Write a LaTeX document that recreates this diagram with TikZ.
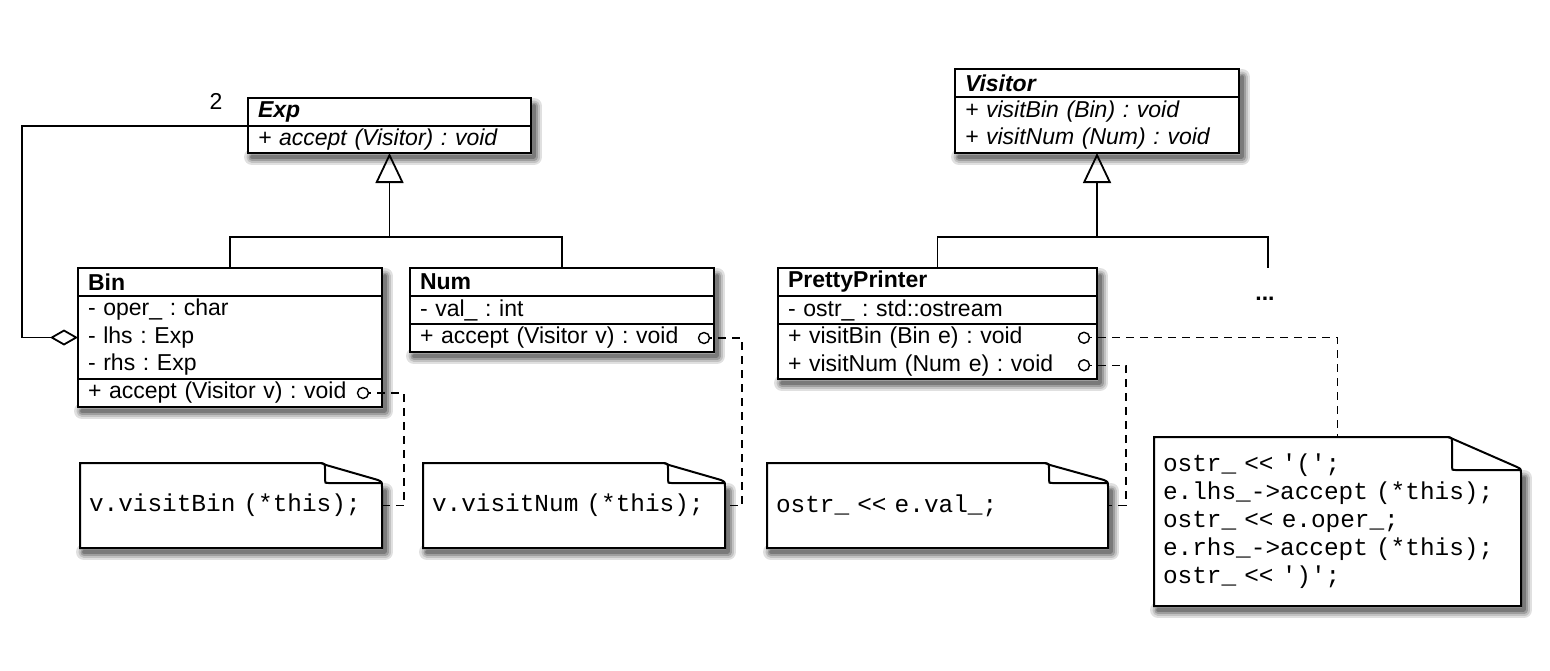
\documentclass[tikz,border=0pt]{standalone}
\usepackage{fontspec}
\setmainfont{Liberation Sans}
\setmonofont{Liberation Mono}
\usetikzlibrary{arrows.meta,positioning}

\definecolor{shadowA}{rgb}{0.88,0.88,0.88}
\definecolor{shadowB}{rgb}{0.76,0.76,0.76}
\definecolor{shadowC}{rgb}{0.62,0.62,0.62}
\definecolor{shadowD}{rgb}{0.48,0.48,0.48}

\tikzset{
  umltitle/.style={draw, line width=1pt, fill=white, outer sep=0pt, inner xsep=5pt, inner ysep=0pt,
    minimum height=14pt, align=left, font=\fontsize{11.5}{13.75}\selectfont\bfseries},
  umlpart/.style={draw, line width=1pt, fill=white, outer sep=0pt, inner xsep=5pt, inner ysep=0pt,
    align=left, font=\fontsize{11.5}{13.75}\selectfont},
  note/.style={inner xsep=4.5pt, inner ysep=0pt, outer sep=0pt, align=left, anchor=north west,
    font=\fontsize{12.2}{14}\selectfont\ttfamily},
  noteline/.style={draw, line width=1pt, fill=white},
  shadowline/.style={line cap=round, line join=round},
  linkdot/.style={circle, draw, line width=0.7pt, fill=white, inner sep=0pt, minimum size=5.5pt},
  notelink/.style={dash pattern=on 4pt off 3pt, line width=0.7pt},
  tree/.style={line width=0.9pt},
  gen/.style={line width=0.9pt, -{Triangle[open, length=15pt, width=14pt]}},
  agg/.style={line width=0.9pt, -{Diamond[open, length=14pt, width=8pt]}},
}

% grey shadow along bottom and right side: left, top, width, height (px)
\newcommand{\castshadow}[4]{%
  \draw[shadowline, shadowA, line width=8pt] ({#1+4},{#2+#4+4}) -- ({#1+#3+3},{#2+#4+4}) -- ({#1+#3+3},{#2+8});
  \draw[shadowline, shadowB, line width=5.5pt] ({#1+4},{#2+#4+4}) -- ({#1+#3+3},{#2+#4+4}) -- ({#1+#3+3},{#2+8});
  \draw[shadowline, shadowC, line width=3.5pt] ({#1+4},{#2+#4+4}) -- ({#1+#3+3},{#2+#4+4}) -- ({#1+#3+3},{#2+8});
  \draw[shadowline, shadowD, line width=1.8pt] ({#1+4},{#2+#4+4}) -- ({#1+#3+3},{#2+#4+4}) -- ({#1+#3+3},{#2+8});
}

% note sheet with folded corner: left, top, width, height, fold width, fold height (px)
\newcommand{\notesheet}[6]{%
  \castshadow{#1}{#2+#6}{#3}{#4-#6}
  \begin{scope}[shift={(#1,#2)}]
    \draw[noteline] (0,#4) -- (0,0) -- ({#3-#5-4},0) .. controls ({#3-#5+2},0) .. ({#3-#5+6},2)
      -- ({#3-4},{#6-3}) .. controls (#3,{#6-1}) .. (#3,{#6+4}) -- (#3,#4) -- cycle;
    \draw[line width=1pt] ({#3-#5+1},0) .. controls ({#3-#5+5},1) .. ({#3-#5+5},6)
      -- ({#3-#5+5},{#6-3}) .. controls ({#3-#5+5},#6) .. ({#3-#5+9},#6) -- (#3,#6);
  \end{scope}
}

\begin{document}
\frenchspacing
\begin{tikzpicture}[x=0.5pt, y=-0.5pt]
    \useasboundingbox (0,0) rectangle (1550,670);

    % Shadows and note sheets
    \castshadow{248}{98}{283}{55}
    \castshadow{78}{268}{304}{139}
    \castshadow{410}{268}{304}{84}
    \castshadow{955}{69}{284}{84}
    \castshadow{778}{268}{319}{111}
    \notesheet{80}{463}{302}{85}{62}{20}
    \notesheet{423}{463}{302}{85}{62}{20}
    \notesheet{767}{463}{341}{85}{64}{20}
    \notesheet{1154}{437}{367}{169}{74}{33}

    % Classes (Exp side)
    \node[umltitle, text width=131.5pt, anchor=north west] (exptitle) at (248,98) {\itshape Exp};
    \node[umlpart, text width=131.5pt, minimum height=13.5pt, below=0pt of exptitle] (expmeth) {\itshape + accept (Visitor) : void};

    \node[umltitle, text width=142pt, anchor=north west] (bintitle) at (78,268) {Bin};
    \node[umlpart, text width=142pt, minimum height=41.5pt, below=0pt of bintitle] (binattr) {- oper\_ : char\\- lhs : Exp\\- rhs : Exp};
    \node[umlpart, text width=142pt, minimum height=14pt, below=0pt of binattr] (binmeth) {+ accept (Visitor v) : void};

    \node[umltitle, text width=142pt, anchor=north west] (numtitle) at (410,268) {Num};
    \node[umlpart, text width=142pt, minimum height=14pt, below=0pt of numtitle] (numattr) {- val\_ : int};
    \node[umlpart, text width=142pt, minimum height=14pt, below=0pt of numattr] (nummeth) {+ accept (Visitor v) : void};

    % Classes (Visitor side)
    \node[umltitle, text width=132pt, anchor=north west] (vistitle) at (955,69) {\itshape Visitor};
    \node[umlpart, text width=132pt, minimum height=28pt, below=0pt of vistitle] (vismeth) {\itshape + visitBin (Bin) : void\\\itshape + visitNum (Num) : void};

    \node[umltitle, text width=149.5pt, anchor=north west] (pptitle) at (778,268) {PrettyPrinter};
    \node[umlpart, text width=149.5pt, minimum height=14pt, below=0pt of pptitle] (ppattr) {- ostr\_ : std::ostream};
    \node[umlpart, text width=149.5pt, minimum height=27.5pt, below=0pt of ppattr] (ppmeth) {+ visitBin (Bin e) : void\\+ visitNum (Num e) : void};

    \node[font=\fontsize{11.5}{13.75}\selectfont\bfseries] (more) at (1265,299) {...};
    \node[font=\fontsize{11.5}{13.75}\selectfont] (mult) at (216,101) {2};

    % Notes
    \node[note, text width=142pt, minimum height=42.5pt] (binnote) at (80,463) {v.visitBin (*this);};
    \node[note, text width=142pt, minimum height=42.5pt] (numnote) at (423,463) {v.visitNum (*this);};
    \node[note, text width=161.5pt, minimum height=42.5pt] (ppnumnote) at (767,463) {ostr\_ << e.val\_;};
    \node[note, text width=174.5pt, minimum height=84.5pt] (ppbinnote) at (1154,437)
        {ostr\_ << '(';\\e.lhs\_->accept (*this);\\ostr\_ << e.oper\_;\\e.rhs\_->accept (*this);\\ostr\_ << ')';};

    % Inheritance
    \coordinate (expfork) at (expmeth.south |- 0,237);
    \draw[tree] (bintitle.north) |- (expfork) -| (numtitle.north);
    \draw[gen] (expfork) -- (expmeth.south);

    \coordinate (visfork) at (vismeth.south |- 0,237);
    \coordinate (moreend) at (1268,268);
    \draw[tree] (pptitle.north) |- (visfork) -| (moreend);
    \draw[gen] (visfork) -- (vismeth.south);

    % Aggregation Bin -> Exp
    \coordinate (aggcorner) at (binattr.west -| 22,0);
    \draw[agg] (exptitle.south west) -| (aggcorner) -- (binattr.west);

    % Links to the notes
    \draw[notelink] ([xshift=-9.5pt]binmeth.east) -| ([xshift=11pt]binnote.east) -- (binnote.east);
    \draw[notelink] ([xshift=-5pt]nummeth.east) -| ([xshift=8.5pt]numnote.east) -- (numnote.east);
    \draw[notelink] ([xshift=-6.5pt,yshift=6.875pt]ppmeth.east) -| (ppbinnote.north);
    \draw[notelink] ([xshift=-6.5pt,yshift=-6.875pt]ppmeth.east) -| ([xshift=9pt]ppnumnote.east) -- (ppnumnote.east);

    \node[linkdot] (bindot) at ([xshift=-9.5pt]binmeth.east) {};
    \node[linkdot] (numdot) at ([xshift=-5pt]nummeth.east) {};
    \node[linkdot] (ppbindot) at ([xshift=-6.5pt,yshift=6.875pt]ppmeth.east) {};
    \node[linkdot] (ppnumdot) at ([xshift=-6.5pt,yshift=-6.875pt]ppmeth.east) {};
\end{tikzpicture}
\end{document}
